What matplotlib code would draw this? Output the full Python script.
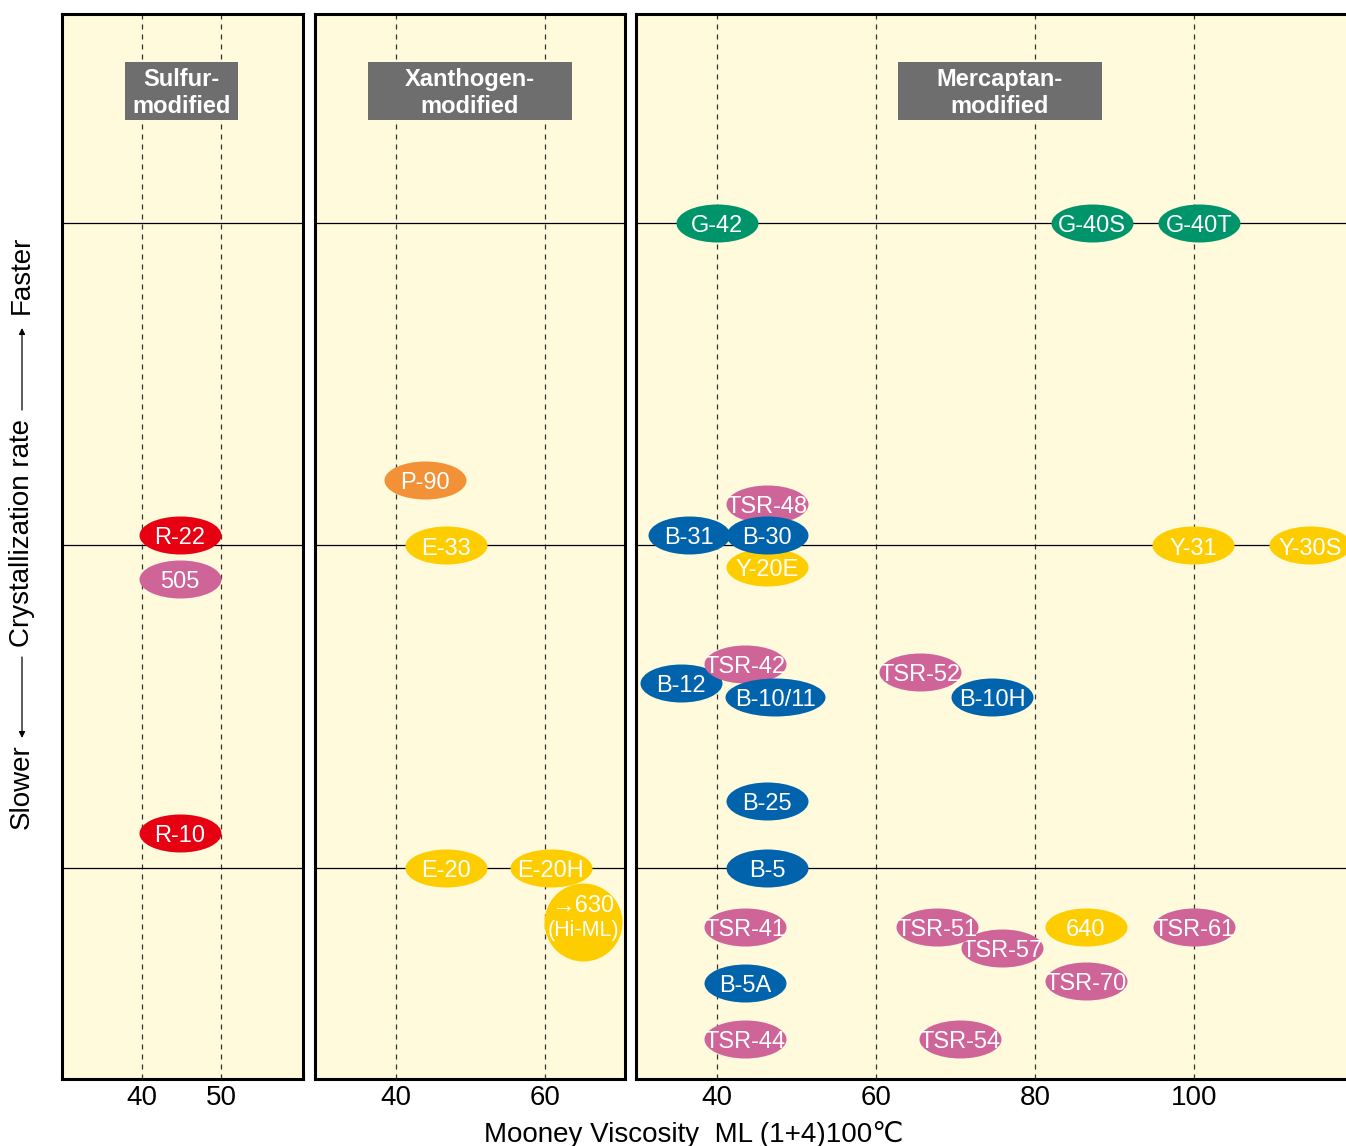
import matplotlib
matplotlib.use("Agg")
import matplotlib.pyplot as plt
import numpy as np
from matplotlib.path import Path
from matplotlib.markers import MarkerStyle
from matplotlib.patches import Rectangle, FancyArrowPatch

plt.rcParams['font.family'] = ['Liberation Sans', 'DejaVu Sans']

# ---------------- data ----------------
groups = ["Sulfur-\nmodified", "Xanthogen-\nmodified", "Mercaptan-\nmodified"]
group_ticks = [[40, 50], [40, 60], [40, 60, 80, 100]]
rate_levels = [20, 50, 80]

# (label, mooney viscosity, crystallization rate (arbitrary), colour key)
sulfur_labels = ["R-22", "505", "R-10"]
sulfur_ml = [44.8, 44.8, 44.8]
sulfur_rate = [51.0, 46.9, 23.3]
sulfur_kind = ["red", "pink", "red"]

xan_labels = ["P-90", "E-33", "E-20", "E-20H"]
xan_ml = [43.9, 46.7, 46.7, 60.8]
xan_rate = [56.1, 50.0, 20.0, 20.0]
xan_kind = ["orange", "yellow", "yellow", "yellow"]
himl_label = ("\u2192630", "(Hi-ML)")
himl_ml = 65.1
himl_rate = 15.0

mer_labels = ["G-42", "G-40S", "G-40T",
              "TSR-48", "B-31", "Y-20E", "B-30", "Y-31", "Y-30S",
              "B-12", "TSR-42", "B-10/11", "TSR-52", "B-10H",
              "B-25", "B-5",
              "TSR-41", "TSR-57", "TSR-51", "640", "TSR-61",
              "TSR-70", "B-5A", "TSR-44", "TSR-54"]
mer_ml = [40.0, 87.2, 100.6,
          46.3, 36.5, 46.3, 46.3, 99.9, 114.6,
          35.5, 43.5, 47.3, 65.5, 74.6,
          46.3, 46.3,
          43.5, 75.8, 67.7, 86.4, 100.0,
          86.4, 43.5, 43.5, 70.6]
mer_rate = [80.0, 80.0, 80.0,
            53.9, 51.0, 48.0, 51.0, 50.0, 50.0,
            37.2, 39.0, 35.9, 38.2, 35.9,
            26.2, 20.0,
            14.5, 12.6, 14.5, 14.5, 14.5,
            9.5, 9.3, 4.1, 4.1]
mer_kind = ["green", "green", "green",
            "pink", "blue", "yellow", "blue", "yellow", "yellow",
            "blue", "pink", "blue", "pink", "blue",
            "blue", "blue",
            "pink", "pink", "pink", "yellow", "pink",
            "pink", "blue", "pink", "pink"]

# ---------------- style ----------------
colors = {"red": "#e60012", "pink": "#cf6499", "yellow": "#fdcd00",
          "orange": "#f39137", "green": "#00946b", "blue": "#0063ac"}
bg = "#fffadb"
wide = {"B-10/11": 100}

W, H = 1346, 1146
fig = plt.figure(figsize=(W / 100, H / 100), dpi=100)

panels = [
    dict(px=(62, 241), xlim=(29.87, 60.38), box=(125, 238)),
    dict(px=(315, 310), xlim=(29.13, 70.74), box=(368, 572)),
    dict(px=(636, 715), xlim=(29.8, 119.74), box=(898, 1102)),
]
ylim = (0.37, 99.44)
bottom_px, top_px = 1079, 14


def ellipse_marker(width_px, height_px=38):
    circ = Path.unit_circle()
    v = circ.vertices * np.array([1.0, height_px / width_px])
    return MarkerStyle(Path(v, circ.codes))


def draw_points(ax, labels, xs, ys, kinds, z0=3):
    for i, (lab, x, y, k) in enumerate(zip(labels, xs, ys, kinds)):
        wpx = wide.get(lab, 82)
        s = (wpx * 0.72) ** 2
        ax.scatter([x], [y], s=s, marker=ellipse_marker(wpx), color=colors[k],
                   linewidths=0, zorder=z0 + 2 * i, clip_on=False)
        ax.annotate(lab, (x, y), xytext=(0, -2.2), textcoords="offset points",
                    color="white", fontsize=17, ha="center", va="center",
                    zorder=z0 + 2 * i + 1)


axes = []
for gi, p in enumerate(panels):
    l, w = p["px"]
    ax = fig.add_axes([l / W, (H - bottom_px) / H, w / W, (bottom_px - top_px) / H])
    ax.set_facecolor(bg)
    ax.set_xlim(*p["xlim"])
    ax.set_ylim(*ylim)
    ax.set_yticks([])
    ax.set_xticks(group_ticks[gi])
    ax.set_xticklabels([str(t) for t in group_ticks[gi]], fontsize=20)
    ax.tick_params(axis="x", length=0, pad=4)
    for sp in ax.spines.values():
        sp.set_linewidth(2.2)
    if gi == 2:
        ax.spines["right"].set_visible(False)
    for t in group_ticks[gi]:
        ax.axvline(t, color="#333333", lw=0.9, ls=(0, (4, 4)), zorder=1)
    for r in rate_levels:
        ax.axhline(r, color="black", lw=0.9, zorder=1)
    # header box
    b0, b1 = p["box"]
    x0 = (b0 - l) / w
    x1 = (b1 - l) / w
    y0 = (bottom_px - 120) / (bottom_px - top_px)
    y1 = (bottom_px - 62) / (bottom_px - top_px)
    ax.add_patch(Rectangle((x0, y0), x1 - x0, y1 - y0, transform=ax.transAxes,
                           facecolor="#6e6e6e", edgecolor="none", zorder=2))
    ax.text((x0 + x1) / 2, (y0 + y1) / 2 - 0.002, groups[gi], transform=ax.transAxes,
            ha="center", va="center", color="white", fontsize=17,
            fontweight="bold", linespacing=1.2, zorder=3)
    axes.append(ax)

draw_points(axes[0], sulfur_labels, sulfur_ml, sulfur_rate, sulfur_kind)
draw_points(axes[1], xan_labels, xan_ml, xan_rate, xan_kind)
axes[1].scatter([himl_ml], [himl_rate], s=(78 * 0.72) ** 2, marker="o",
                color=colors["yellow"], linewidths=0, zorder=30)
axes[1].annotate(himl_label[0], (himl_ml, himl_rate), xytext=(0, 11),
                 textcoords="offset points", ha="center", va="center",
                 color="white", fontsize=17, zorder=31)
axes[1].annotate(himl_label[1], (himl_ml, himl_rate), xytext=(0, -6.5),
                 textcoords="offset points", ha="center", va="center",
                 color="white", fontsize=15.5, zorder=31)
draw_points(axes[2], mer_labels, mer_ml, mer_rate, mer_kind)

# x label
fig.text(694 / W, 1 - 1134 / H, "Mooney Viscosity  ML (1+4)100\u2103",
         ha="center", va="center", fontsize=20,
         family=["Liberation Sans", "DejaVu Sans"])

# y label pieces
xl = 22 / W
fig.text(xl, 1 - 275 / H, "Faster", rotation=90, ha="center", va="center", fontsize=20)
fig.text(xl, 1 - 533 / H, "Crystallization rate", rotation=90, ha="center",
         va="center", fontsize=20)
fig.text(xl, 1 - 787 / H, "Slower", rotation=90, ha="center", va="center", fontsize=20)
arrow = dict(arrowstyle="-|>", lw=0.9, color="black", mutation_scale=9,
             shrinkA=0, shrinkB=0)
fig.add_artist(FancyArrowPatch(
    (xl, 1 - 410 / H), (xl, 1 - 328 / H), transform=fig.transFigure, **arrow))
fig.add_artist(FancyArrowPatch(
    (xl, 1 - 657 / H), (xl, 1 - 738 / H), transform=fig.transFigure, **arrow))

fig.savefig("out.png", dpi=100)
